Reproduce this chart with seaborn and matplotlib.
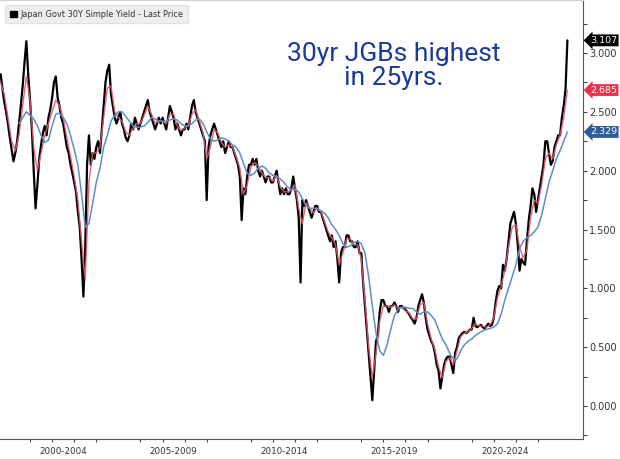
import numpy as np
import pandas as pd
import matplotlib
matplotlib.use("Agg")
import matplotlib.pyplot as plt
import matplotlib.transforms as mtransforms
from matplotlib.patches import Patch
from matplotlib.ticker import MultipleLocator, FormatStrFormatter
import seaborn as sns

# ---------------- data ----------------
title_label = "Japan Govt 30Y Simple Yield - Last Price"
period_labels = ["2000-2004", "2005-2009", "2010-2014", "2015-2019", "2020-2024"]
period_bounds = [2000, 2005, 2010, 2015, 2020, 2025]

# monthly last price, Sep 1999 .. May 2025
yield_last = [
    2.82, 2.70, 2.58, 2.50,                                                   # 1999
    2.40, 2.28, 2.18, 2.08, 2.15, 2.25, 2.40, 2.55, 2.72, 2.92, 3.10, 2.82,   # 2000
    2.60, 2.35, 2.00, 1.68, 1.88, 2.10, 2.22, 2.32, 2.38, 2.30, 2.45, 2.52,   # 2001
    2.62, 2.75, 2.80, 2.62, 2.55, 2.45, 2.40, 2.30, 2.20, 2.15, 2.05, 1.98,   # 2002
    1.90, 1.82, 1.65, 1.52, 1.25, 0.93, 1.35, 2.05, 2.30, 2.05, 2.15, 2.10,   # 2003
    2.20, 2.25, 2.15, 2.35, 2.55, 2.75, 2.85, 2.90, 2.65, 2.55, 2.45, 2.40,   # 2004
    2.45, 2.50, 2.40, 2.35, 2.28, 2.25, 2.30, 2.40, 2.35, 2.45, 2.40, 2.35,   # 2005
    2.40, 2.45, 2.50, 2.55, 2.60, 2.50, 2.45, 2.40, 2.35, 2.40, 2.45, 2.40,   # 2006
    2.45, 2.40, 2.35, 2.45, 2.55, 2.50, 2.45, 2.35, 2.40, 2.35, 2.30, 2.35,   # 2007
    2.35, 2.40, 2.35, 2.45, 2.55, 2.60, 2.50, 2.45, 2.40, 2.35, 2.30, 2.25,   # 2008
    1.75, 2.20, 2.30, 2.35, 2.40, 2.35, 2.30, 2.25, 2.20, 2.25, 2.15, 2.20,   # 2009
    2.25, 2.20, 2.20, 2.15, 2.10, 2.05, 1.95, 1.58, 1.85, 1.80, 1.95, 2.05,   # 2010
    2.05, 2.10, 2.05, 2.10, 2.00, 1.95, 2.00, 1.95, 1.90, 1.95, 1.95, 1.90,   # 2011
    1.90, 1.95, 2.00, 1.90, 1.80, 1.85, 1.80, 1.85, 1.80, 1.80, 1.85, 1.95,   # 2012
    1.85, 1.75, 1.60, 1.05, 1.75, 1.70, 1.75, 1.70, 1.65, 1.60, 1.65, 1.70,   # 2013
    1.70, 1.65, 1.65, 1.60, 1.55, 1.50, 1.45, 1.40, 1.45, 1.35, 1.40, 1.25,   # 2014
    1.05, 1.30, 1.35, 1.35, 1.45, 1.45, 1.40, 1.40, 1.35, 1.35, 1.40, 1.30,   # 2015
    1.30, 1.05, 0.85, 0.65, 0.45, 0.25, 0.05, 0.30, 0.55, 0.60, 0.80, 0.90,   # 2016
    0.90, 0.85, 0.85, 0.80, 0.85, 0.85, 0.88, 0.85, 0.80, 0.85, 0.85, 0.83,   # 2017
    0.82, 0.80, 0.78, 0.75, 0.73, 0.70, 0.75, 0.85, 0.90, 0.95, 0.88, 0.75,   # 2018
    0.65, 0.60, 0.55, 0.52, 0.45, 0.35, 0.30, 0.15, 0.25, 0.35, 0.40, 0.42,   # 2019
    0.42, 0.35, 0.28, 0.45, 0.50, 0.58, 0.60, 0.62, 0.63, 0.62, 0.63, 0.65,   # 2020
    0.65, 0.75, 0.68, 0.67, 0.68, 0.69, 0.67, 0.66, 0.68, 0.70, 0.68, 0.69,   # 2021
    0.75, 0.88, 0.98, 1.02, 1.00, 1.20, 1.15, 1.25, 1.40, 1.55, 1.60, 1.65,   # 2022
    1.55, 1.38, 1.15, 1.25, 1.22, 1.20, 1.40, 1.58, 1.70, 1.85, 1.80, 1.65,   # 2023
    1.75, 1.85, 1.95, 2.05, 2.25, 2.25, 2.15, 2.05, 2.08, 2.20, 2.25, 2.30,   # 2024
    2.30, 2.45, 2.55, 2.70, 3.107,                                            # 2025
]

# short moving average (red), every two months, Sep 1999 .. May 2025
ma_short = [
    2.75, 2.65,
    2.45, 2.25, 2.17, 2.30, 2.55, 2.80,
    2.60, 2.20, 2.00, 2.15, 2.30, 2.40,
    2.50, 2.60, 2.55, 2.45, 2.28, 2.12,
    1.95, 1.75, 1.40, 1.07, 1.90, 2.15,
    2.15, 2.20, 2.45, 2.70, 2.72, 2.50,
    2.45, 2.42, 2.33, 2.30, 2.36, 2.40,
    2.40, 2.47, 2.55, 2.48, 2.40, 2.42,
    2.42, 2.40, 2.48, 2.48, 2.38, 2.34,
    2.36, 2.38, 2.48, 2.52, 2.42, 2.32,
    2.10, 2.20, 2.35, 2.32, 2.24, 2.20,
    2.22, 2.20, 2.12, 2.02, 1.80, 1.88,
    2.03, 2.07, 2.04, 1.98, 1.94, 1.94,
    1.91, 1.96, 1.86, 1.82, 1.82, 1.83,
    1.88, 1.68, 1.55, 1.73, 1.68, 1.64,
    1.68, 1.65, 1.57, 1.48, 1.43, 1.37,
    1.20, 1.30, 1.42, 1.42, 1.37, 1.37,
    1.25, 0.90, 0.50, 0.24, 0.45, 0.72,
    0.85, 0.85, 0.84, 0.86, 0.83, 0.84,
    0.81, 0.79, 0.74, 0.74, 0.86, 0.88,
    0.70, 0.57, 0.48, 0.33, 0.24, 0.38,
    0.41, 0.35, 0.47, 0.59, 0.62, 0.63,
    0.66, 0.70, 0.68, 0.68, 0.67, 0.69,
    0.75, 0.92, 1.02, 1.15, 1.35, 1.52,
    1.54, 1.35, 1.26, 1.33, 1.60, 1.75,
    1.72, 1.88, 2.10, 2.15, 2.10, 2.22,
    2.30, 2.45, 2.685,
]

# long moving average (blue), every two months, Jul 2000 .. May 2025
ma_long = [
    2.40, 2.45, 2.50,
    2.47, 2.44, 2.38, 2.30, 2.24, 2.26,
    2.38, 2.48, 2.49, 2.45, 2.40, 2.30,
    2.18, 2.05, 1.80, 1.52, 1.55, 1.72,
    1.90, 2.02, 2.20, 2.30, 2.42, 2.47,
    2.50, 2.50, 2.46, 2.42, 2.38, 2.37,
    2.37, 2.38, 2.41, 2.45, 2.44, 2.42,
    2.42, 2.42, 2.43, 2.44, 2.43, 2.40,
    2.38, 2.38, 2.40, 2.43, 2.44, 2.40,
    2.33, 2.27, 2.25, 2.26, 2.28, 2.27,
    2.25, 2.22, 2.20, 2.15, 2.06, 1.98,
    1.96, 1.98, 2.02, 2.04, 2.02, 1.98,
    1.96, 1.95, 1.93, 1.90, 1.86, 1.84,
    1.84, 1.82, 1.76, 1.70, 1.68, 1.68,
    1.68, 1.66, 1.64, 1.60, 1.54, 1.50,
    1.45, 1.38, 1.35, 1.36, 1.39, 1.40,
    1.38, 1.30, 1.10, 0.85, 0.62, 0.47,
    0.43, 0.52, 0.65, 0.77, 0.82, 0.84,
    0.84, 0.83, 0.83, 0.80, 0.78, 0.80,
    0.80, 0.77, 0.73, 0.65, 0.57, 0.52,
    0.45, 0.40, 0.40, 0.47, 0.52, 0.55,
    0.57, 0.60, 0.62, 0.64, 0.65, 0.66,
    0.67, 0.70, 0.78, 0.90, 1.00, 1.10,
    1.20, 1.34, 1.40, 1.43, 1.45, 1.48,
    1.52, 1.62, 1.76, 1.90, 2.00, 2.10,
    2.17, 2.25, 2.329,
]

tag_values = [3.107, 2.685, 2.329]
annotation_text = "30yr JGBs highest\nin 25yrs."

# ---------------- frames ----------------
def decimal_years(idx):
    return idx.year + (idx.month - 1) / 12.0

d_last = pd.date_range("1999-09-01", "2025-05-01", freq="MS")
d_short = pd.date_range("1999-09-01", "2025-05-01", freq="2MS")
d_long = pd.date_range("2000-07-01", "2025-05-01", freq="2MS")
assert len(d_last) == len(yield_last)
assert len(d_short) == len(ma_short)
assert len(d_long) == len(ma_long)

df_last = pd.DataFrame({"t": decimal_years(d_last), "v": yield_last})
df_short = pd.DataFrame({"t": decimal_years(d_short), "v": ma_short})
df_long = pd.DataFrame({"t": decimal_years(d_long), "v": ma_long})

# ---------------- figure ----------------
sns.set_theme(style="white")
plt.rcParams["font.family"] = ["DejaVu Sans"]

W, H = 620, 459
fig = plt.figure(figsize=(W / 100, H / 100), dpi=100)
ax = fig.add_axes([0, 1 - 439 / H, 583 / W, 439 / H])

c_black = "#000000"
c_red = "#e0566c"
c_blue = "#5d8fc2"

sns.lineplot(data=df_last, x="t", y="v", ax=ax, color=c_black, linewidth=1.6, zorder=2)
sns.lineplot(data=df_short, x="t", y="v", ax=ax, color=c_red, linewidth=1.0, alpha=0.9, zorder=3)
sns.lineplot(data=df_long, x="t", y="v", ax=ax, color=c_blue, linewidth=1.1, zorder=4)

ax.set_xlim(1999.64, 2026.04)
ax.set_ylim(-0.28, 3.45)
ax.set_xlabel("")
ax.set_ylabel("")

# right axis
ax.yaxis.tick_right()
ax.yaxis.set_major_locator(MultipleLocator(0.5))
ax.yaxis.set_minor_locator(MultipleLocator(0.25))
ax.yaxis.set_major_formatter(FormatStrFormatter("%.3f"))
ax.tick_params(axis="y", which="both", direction="out", length=3, width=0.8,
               colors="#444444", labelsize=7, pad=1.5, right=True, left=False)
ax.tick_params(axis="y", which="major", labelcolor="#333333")

# bottom axis: long grey separators at period bounds, small yearly ticks
ax.set_xticks(period_bounds)
ax.set_xticklabels([])
ax.set_xticks(np.arange(2000, 2026, 1), minor=True)
ax.tick_params(axis="x", which="major", direction="out", length=15, width=0.9,
               color="#a8a8a8")
ax.tick_params(axis="x", which="minor", direction="out", length=2.5, width=0.8,
               color="#444444", bottom=True)
xtr = ax.get_xaxis_transform()
for lab, a, b in zip(period_labels, period_bounds[:-1], period_bounds[1:]):
    ax.text((a + b) / 2, -0.028, lab, transform=xtr, ha="center", va="center",
            fontsize=6.3, color="#333333", clip_on=False)

ax.spines["left"].set_visible(False)
ax.spines["top"].set_color("#d0d0d0")
ax.spines["top"].set_linewidth(0.8)
ax.spines["right"].set_color("#555555")
ax.spines["bottom"].set_color("#555555")
ax.spines["right"].set_linewidth(0.8)
ax.spines["bottom"].set_linewidth(0.8)

# legend
leg = ax.legend(handles=[Patch(facecolor="black", edgecolor="black")], labels=[title_label],
                loc="upper left", bbox_to_anchor=(0.002, 0.997), fontsize=5.9,
                frameon=True, fancybox=True, facecolor="#eeeeee", edgecolor="#e2e2e2",
                handlelength=0.9, handleheight=0.9, handletextpad=0.4,
                borderpad=0.55, framealpha=1.0)
for t in leg.get_texts():
    t.set_color("#333333")

# value tags on the right axis
btr = mtransforms.blended_transform_factory(ax.transAxes, ax.transData)
tag_colors = ["#000000", "#e8334d", "#2d5d9f"]
for v, c in zip(tag_values, tag_colors):
    ax.text(1.012, v, f"{v:.3f}", transform=btr, ha="left", va="center",
            fontsize=6.8, color="white", clip_on=False, zorder=10,
            bbox=dict(boxstyle="larrow,pad=0.15", fc=c, ec="none"))

# handwritten-style annotation
ax.text(2017.45, 2.89, annotation_text, ha="center", va="center", fontsize=19,
        color="#1a3a9a", linespacing=1.0, family=["Roboto", "Lato", "DejaVu Sans"],
        fontweight="normal")

fig.savefig("out.png", dpi=100, facecolor="white")
